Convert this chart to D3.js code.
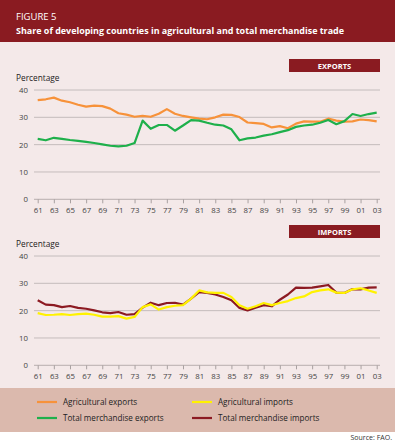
<!DOCTYPE html>
<html>
<head>
<meta charset="utf-8">
<script src="https://cdn.jsdelivr.net/npm/d3@7"></script>
<style>
  body { margin: 0; background: #fff; }
  svg { display: block; font-family: "Open Sans", "Noto Sans", sans-serif; }
</style>
</head>
<body>
<div id="chart"></div>
<script>
// years 1961-2003
const years = d3.range(1961, 2004);
const yTicks = [0, 10, 20, 30, 40];

const agriExports = [36.3, 36.6, 37.2, 36.1, 35.5, 34.6, 33.9, 34.3, 34.1, 33.2,
  31.5, 31.0, 30.2, 30.5, 30.2, 31.3, 33.0, 31.3, 30.5, 30.0,
  29.5, 29.3, 30.0, 31.0, 30.9, 30.1, 28.1, 27.9, 27.6, 26.3,
  26.8, 26.0, 27.7, 28.5, 28.4, 28.4, 29.5, 28.8, 28.4, 28.5,
  29.2, 29.0, 28.5];
const totalExports = [22.1, 21.6, 22.5, 22.1, 21.7, 21.4, 21.0, 20.6, 20.1, 19.6,
  19.4, 19.6, 20.6, 28.8, 25.8, 27.2, 27.2, 25.1, 27.0, 29.0,
  28.8, 28.0, 27.3, 27.0, 25.6, 21.6, 22.3, 22.6, 23.3, 23.8,
  24.6, 25.3, 26.5, 27.0, 27.3, 28.0, 29.0, 27.5, 28.6, 31.2,
  30.5, 31.2, 31.7];
const agriImports = [19.1, 18.4, 18.5, 18.7, 18.4, 18.7, 18.9, 18.5, 17.8, 17.8,
  18.0, 17.1, 17.7, 21.3, 22.3, 20.4, 21.3, 21.8, 22.0, 24.4,
  27.4, 26.7, 26.5, 26.5, 25.0, 22.0, 20.7, 21.6, 22.8, 22.0,
  22.8, 23.5, 24.6, 25.2, 26.8, 27.4, 27.8, 26.6, 26.5, 27.8,
  28.2, 27.4, 26.5];
const totalImports = [23.8, 22.2, 22.0, 21.3, 21.7, 21.0, 20.7, 20.1, 19.4, 19.1,
  19.5, 18.5, 18.7, 21.1, 22.9, 22.0, 22.8, 22.9, 22.2, 24.4,
  26.8, 26.5, 25.9, 25.0, 23.8, 21.0, 20.1, 21.1, 22.0, 21.6,
  24.0, 25.9, 28.4, 28.3, 28.4, 28.9, 29.4, 26.6, 26.5, 27.9,
  27.8, 28.4, 28.5];

const colors = {
  agriExports: "#f7923a",
  totalExports: "#1eb04b",
  agriImports: "#fff200",
  totalImports: "#8c1a22"
};

const W = 395, H = 442;
const red = "#8a1b21";

const svg = d3.select("#chart").append("svg")
  .attr("width", W).attr("height", H);

// backgrounds
svg.append("rect").attr("width", W).attr("height", 432).attr("fill", "#f4e9e9");
svg.append("rect").attr("width", W).attr("height", 42).attr("fill", red);
svg.append("rect").attr("y", 388).attr("width", W).attr("height", 44).attr("fill", "#dbb9ad");

svg.append("text").attr("x", 16).attr("y", 20)
  .attr("fill", "#fff").attr("font-size", 9.5).text("FIGURE 5");
svg.append("text").attr("x", 16).attr("y", 33.5)
  .attr("fill", "#fff").attr("font-size", 9.6).attr("font-weight", "bold")
  .attr("textLength", 328).attr("lengthAdjust", "spacingAndGlyphs")
  .text("Share of developing countries in agricultural and total merchandise trade");

const x = d3.scaleLinear().domain([1961, 2003]).range([37.7, 376.7]);

function panel(top, bottom, label, series) {
  const y = d3.scaleLinear().domain([0, 40]).range([bottom, top]);
  const g = svg.append("g");

  // badge
  g.append("rect").attr("x", 289).attr("y", top - 31).attr("width", 91).attr("height", 13)
    .attr("fill", red);
  g.append("text").attr("x", 334.5).attr("y", top - 21.5)
    .attr("text-anchor", "middle").attr("fill", "#fff")
    .attr("font-size", 7.5).attr("font-weight", "bold").text(label);

  g.append("text").attr("x", 16).attr("y", top - 9)
    .attr("fill", "#222").attr("font-size", 8.3).text("Percentage");

  // gridlines
  g.selectAll(".grid").data(yTicks.slice(1)).enter().append("line")
    .attr("x1", 34).attr("x2", 380)
    .attr("y1", d => y(d)).attr("y2", d => y(d))
    .attr("stroke", "#b8b0b0").attr("stroke-width", 0.8);

  g.selectAll(".ylab").data(yTicks).enter().append("text")
    .attr("x", 28).attr("y", d => y(d) + 3)
    .attr("text-anchor", "end").attr("fill", "#444").attr("font-size", 7.8)
    .text(d => d);

  const xAxis = d3.axisBottom(x)
    .tickValues(d3.range(1961, 2004, 2))
    .tickSize(4).tickSizeOuter(0)
    .tickFormat(d => String(d).slice(2));
  const ax = g.append("g").attr("transform", `translate(0,${bottom})`).call(xAxis);
  ax.select(".domain").attr("d", `M34,0H380`).attr("stroke", "#a8a0a0").attr("stroke-width", 0.8);
  ax.selectAll(".tick line").attr("stroke", "#a8a0a0");
  ax.selectAll(".tick text").attr("fill", "#444").attr("font-size", 7.8)
    .attr("font-family", "'Open Sans', 'Noto Sans', sans-serif").attr("dy", "0.8em");

  const line = d3.line().x((d, i) => x(years[i])).y(d => y(d));
  series.forEach(s => {
    g.append("path").datum(s.values)
      .attr("d", line).attr("fill", "none")
      .attr("stroke", s.color).attr("stroke-width", 2.2)
      .attr("stroke-linejoin", "round");
  });
}

panel(90, 199.3, "EXPORTS", [
  { values: agriExports, color: colors.agriExports },
  { values: totalExports, color: colors.totalExports }
]);
panel(256, 365.3, "IMPORTS", [
  { values: totalImports, color: colors.totalImports },
  { values: agriImports, color: colors.agriImports }
]);

// legend
const legend = [
  { name: "Agricultural exports", color: colors.agriExports, col: 0, row: 0 },
  { name: "Agricultural imports", color: colors.agriImports, col: 1, row: 0 },
  { name: "Total merchandise exports", color: colors.totalExports, col: 0, row: 1 },
  { name: "Total merchandise imports", color: colors.totalImports, col: 1, row: 1 }
];
const lg = svg.selectAll(".leg").data(legend).enter().append("g")
  .attr("transform", d => `translate(${d.col ? 192 : 37},${d.row ? 418 : 402})`);
lg.append("line").attr("x1", 0).attr("x2", 20)
  .attr("stroke", d => d.color).attr("stroke-width", 2.2);
lg.append("text").attr("x", 26).attr("y", 3)
  .attr("font-size", 8.1).attr("fill", "#222").text(d => d.name);

svg.append("text").attr("x", 392).attr("y", 440).attr("text-anchor", "end")
  .attr("font-size", 7).attr("fill", "#333").text("Source: FAO.");
</script>
</body>
</html>
